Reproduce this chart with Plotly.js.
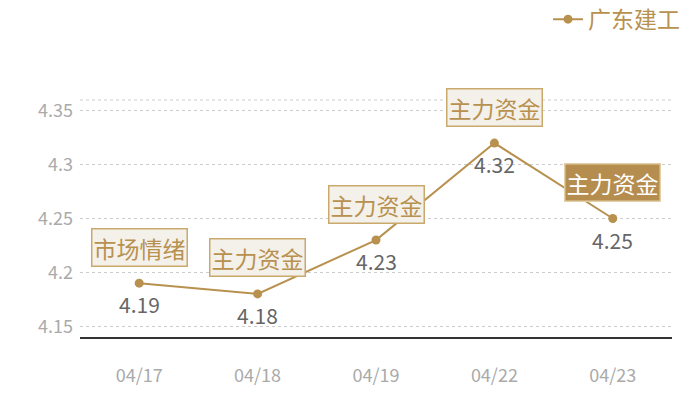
<!DOCTYPE html>
<html>
<head>
<meta charset="utf-8">
<script src="https://cdn.plot.ly/plotly-3.0.1.min.js"></script>
<style>
  html, body { margin: 0; padding: 0; background: #fff; }
  #chart { width: 700px; height: 400px; }
</style>
</head>
<body>
<div id="chart"></div>
<script>
// data
const dates = ['04/17', '04/18', '04/19', '04/22', '04/23'];
const prices = [4.19, 4.18, 4.23, 4.32, 4.25];
const tags = ['市场情绪', '主力资金', '主力资金', '主力资金', '主力资金'];
const highlight = [false, false, false, false, true];
const seriesName = '广东建工';

const FONT = '"Noto Sans CJK SC", "Noto Sans", sans-serif';
const GOLD = '#b8914f';

const trace = {
  x: dates, y: prices, name: seriesName,
  type: 'scatter', mode: 'lines+markers',
  line: { color: GOLD, width: 2 },
  marker: { color: GOLD, size: 9 },
  hoverinfo: 'skip'
};

const annotations = [];
dates.forEach((d, i) => {
  // tag box above the point
  annotations.push({
    x: d, y: prices[i], text: tags[i], showarrow: false, yshift: 36,
    font: { family: FONT, size: 23, color: highlight[i] ? '#ffffff' : GOLD },
    bgcolor: highlight[i] ? '#b58d4e' : '#f4f0ea',
    bordercolor: highlight[i] ? '#e3cfa6' : '#c9a96c',
    borderwidth: 1.5, borderpad: 1
  });
  // value under the point
  annotations.push({
    x: d, y: prices[i], text: String(prices[i]), showarrow: false, yshift: -21,
    font: { family: FONT, size: 21, color: '#666666' }
  });
});

const layout = {
  width: 700, height: 400,
  paper_bgcolor: '#fff', plot_bgcolor: '#fff',
  margin: { l: 80, r: 28, t: 100, b: 63, autoexpand: false },
  font: { family: FONT },
  showlegend: true,
  legend: {
    x: 1.022, xanchor: 'right', xref: 'paper',
    y: 0.952, yref: 'container', yanchor: 'middle',
    orientation: 'h', font: { family: FONT, size: 23, color: GOLD },
    itemwidth: 30
  },
  xaxis: {
    type: 'category', range: [-0.5, dates.length - 0.5],
    showgrid: false, zeroline: false,
    showline: true, linecolor: '#333', linewidth: 1.5,
    ticks: '', tickfont: { family: FONT, size: 18, color: '#aaaaaa' },
    ticklabelstandoff: 22
  },
  yaxis: {
    range: [4.14, 4.36], tickvals: [4.15, 4.2, 4.25, 4.3, 4.35],
    ticktext: ['4.15', '4.2', '4.25', '4.3', '4.35'],
    showgrid: true, gridcolor: '#cccccc', griddash: 'dot', gridwidth: 1,
    zeroline: false, showline: false, ticks: '',
    tickfont: { family: FONT, size: 18, color: '#aaaaaa' },
    ticklabelstandoff: 6
  },
  shapes: [{
    type: 'line', xref: 'paper', yref: 'paper', x0: 0, x1: 1, y0: 1, y1: 1,
    line: { color: '#cccccc', width: 1, dash: 'dot' }
  }],
  annotations
};

Plotly.newPlot('chart', [trace], layout, { displayModeBar: false, staticPlot: true });
</script>
</body>
</html>
